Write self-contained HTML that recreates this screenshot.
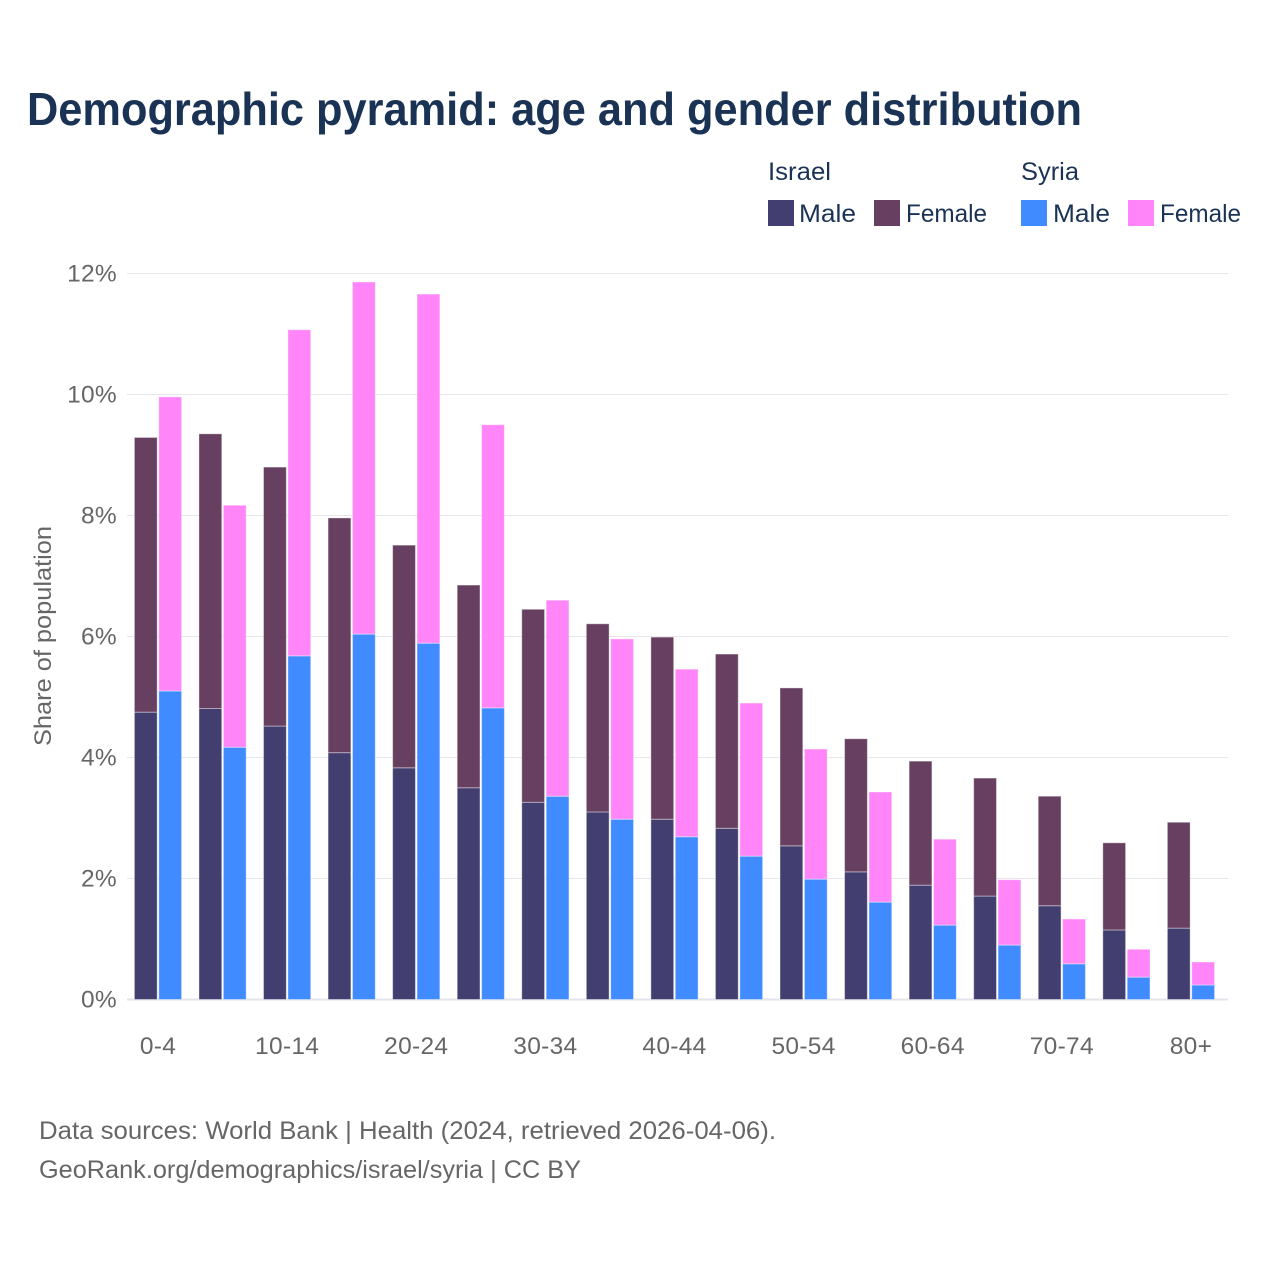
<!DOCTYPE html>
<html lang="en">
<head>
<meta charset="utf-8">
<title>Demographic pyramid</title>
<style>
html,body{margin:0;padding:0;background:#fff;width:1280px;height:1280px;overflow:hidden}
svg{display:block;font-family:"Liberation Sans",sans-serif}
.tick{font-size:24.5px;fill:#666;letter-spacing:.3px}
.leg{font-size:25px;fill:#1a3355}
.src{font-size:25px;fill:#666}
</style>
</head>
<body>
<svg id="chart" width="1280" height="1280" viewBox="0 0 1280 1280" xmlns="http://www.w3.org/2000/svg">
  <rect width="1280" height="1280" fill="#fff"/>
  <text x="27" y="125" font-size="46" font-weight="700" fill="#1a3355" textLength="1055" lengthAdjust="spacingAndGlyphs">Demographic pyramid: age and gender distribution</text>

  <g>
    <text class="leg" x="768" y="180" textLength="63" lengthAdjust="spacingAndGlyphs">Israel</text>
    <text class="leg" x="1021" y="180" textLength="58" lengthAdjust="spacingAndGlyphs">Syria</text>
    <rect x="768" y="200" width="26" height="26" fill="#433e70"/>
    <text class="leg" x="799" y="222" textLength="57" lengthAdjust="spacingAndGlyphs">Male</text>
    <rect x="874" y="200" width="26" height="26" fill="#673f60"/>
    <text class="leg" x="906" y="222" textLength="81" lengthAdjust="spacingAndGlyphs">Female</text>
    <rect x="1021" y="200" width="26" height="26" fill="#3f8bff"/>
    <text class="leg" x="1053" y="222" textLength="57" lengthAdjust="spacingAndGlyphs">Male</text>
    <rect x="1128" y="200" width="26" height="26" fill="#ff85f8"/>
    <text class="leg" x="1160" y="222" textLength="81" lengthAdjust="spacingAndGlyphs">Female</text>
  </g>

  <g id="grid"></g>
  <g id="bars"></g>
  <g id="yticks"></g>
  <g id="xticks"></g>

  <text transform="translate(51 636) rotate(-90)" text-anchor="middle" font-size="24" fill="#666" textLength="220" lengthAdjust="spacingAndGlyphs">Share of population</text>

  <text class="src" x="39" y="1139" textLength="737" lengthAdjust="spacingAndGlyphs">Data sources: World Bank | Health (2024, retrieved 2026-04-06).</text>
  <text class="src" x="39" y="1178" textLength="542" lengthAdjust="spacingAndGlyphs">GeoRank.org/demographics/israel/syria | CC BY</text>
</svg>
<script>
const ageGroups = ["0-4","5-9","10-14","15-19","20-24","25-29","30-34","35-39","40-44","45-49","50-54","55-59","60-64","65-69","70-74","75-79","80+"];
const shownAgeLabels = ["0-4","10-14","20-24","30-34","40-44","50-54","60-64","70-74","80+"];
const israelMale = [4.75,4.81,4.52,4.08,3.83,3.50,3.26,3.10,2.98,2.83,2.54,2.11,1.89,1.71,1.55,1.15,1.18];
const israelFemale = [4.54,4.54,4.28,3.88,3.68,3.35,3.19,3.11,3.01,2.88,2.61,2.20,2.05,1.95,1.81,1.44,1.75];
const syriaMale = [5.10,4.17,5.68,6.04,5.89,4.82,3.36,2.98,2.69,2.37,1.99,1.61,1.23,0.90,0.59,0.37,0.24];
const syriaFemale = [4.86,4.00,5.39,5.82,5.77,4.68,3.24,2.98,2.77,2.53,2.15,1.82,1.42,1.08,0.74,0.46,0.38];
const yTickValues = [0,2,4,6,8,10,12];

const NS = "http://www.w3.org/2000/svg";
const plotLeft = 127, plotRight = 1228, baseY = 999.5, pxPerPct = 60.5;
const firstCenter = 158, groupStep = 64.56, barWidth = 22.8, barOffset = 12.2;

function yScale(v){ return baseY - v * pxPerPct; }
function xCenter(i){ return firstCenter + i * groupStep; }

const grid = document.getElementById("grid");
const yticks = document.getElementById("yticks");
yTickValues.forEach(function(v){
  const line = document.createElementNS(NS, "line");
  
  
  line.setAttribute("x1", plotLeft);
  line.setAttribute("x2", plotRight);
  line.setAttribute("y1", yScale(v));
  line.setAttribute("y2", yScale(v));
  line.setAttribute("stroke", v === 0 ? "#e4e4ec" : "#e6e6ec");
  line.setAttribute("stroke-width", v === 0 ? 2 : 1);
  grid.appendChild(line);
  const t = document.createElementNS(NS, "text");
  
  
  t.setAttribute("class", "tick");
  t.setAttribute("x", 117);
  t.setAttribute("y", yScale(v) + 8);
  t.setAttribute("text-anchor", "end");
  t.textContent = v + "%";
  yticks.appendChild(t);
});

const xticks = document.getElementById("xticks");
shownAgeLabels.forEach(function(label){
  const i = ageGroups.indexOf(label);
  const t = document.createElementNS(NS, "text");
  
  
  t.setAttribute("class", "tick");
  t.setAttribute("x", xCenter(i));
  t.setAttribute("y", 1054);
  t.setAttribute("text-anchor", "middle");
  t.textContent = label;
  xticks.appendChild(t);
});

const bars = document.getElementById("bars");
function addBar(i, side, bottom, value, fill){
  const r = document.createElementNS(NS, "rect");
  
  
  r.setAttribute("x", xCenter(i) + side * barOffset - barWidth / 2);
  r.setAttribute("y", yScale(bottom + value));
  r.setAttribute("width", barWidth);
  r.setAttribute("height", value * pxPerPct);
  r.setAttribute("fill", fill);
  r.setAttribute("stroke", "#fff");
  r.setAttribute("stroke-opacity", "0.4");
  r.setAttribute("stroke-width", "1");
  bars.appendChild(r);
}
ageGroups.forEach(function(g, i){
  addBar(i, -1, 0, israelMale[i], "#433e70");
  addBar(i, -1, israelMale[i], israelFemale[i], "#673f60");
  addBar(i, 1, 0, syriaMale[i], "#3f8bff");
  addBar(i, 1, syriaMale[i], syriaFemale[i], "#ff85f8");
});
</script>
</body>
</html>
